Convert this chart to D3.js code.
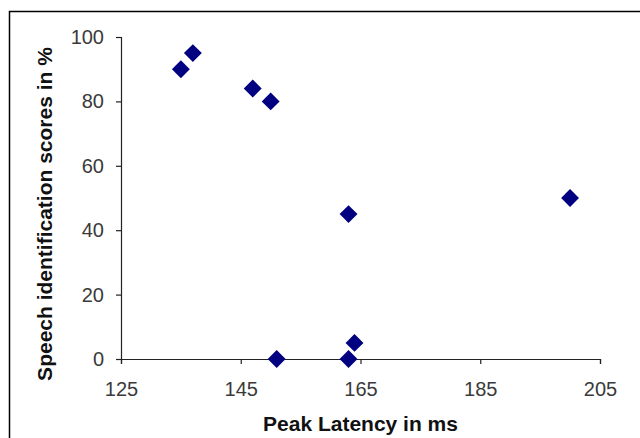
<!DOCTYPE html>
<html>
<head>
<meta charset="utf-8">
<script src="https://cdn.jsdelivr.net/npm/d3@7"></script>
<style>
	body { margin: 0; background: #fff; }
	text { font-family: 'Liberation Sans', Arial, sans-serif; }
</style>
</head>
<body>
<svg id="chart" width="640" height="438"></svg>
<script>
// peak latency (ms) vs speech identification score (%)
const latency = [135, 137, 147, 150, 163, 200, 151, 163, 164];
const score = [90, 95, 84, 80, 45, 50, 0, 0, 5];
const xTicks = [125, 145, 165, 185, 205];
const yTicks = [0, 20, 40, 60, 80, 100];

const svg = d3.select("#chart");
const margin = { top: 37, left: 121, right: 40, bottom: 79 };

// outer frame (only top and left edges are in view)
svg.append("rect")
	.attr("x", 9.5)
	.attr("y", 11.5)
	.attr("width", 700)
	.attr("height", 500)
	.attr("fill", "none")
	.attr("stroke", "#000")
	.attr("stroke-width", 1.5);

const x = d3.scaleLinear().domain([125, 205]).range([margin.left, 600]);
const y = d3.scaleLinear().domain([0, 100]).range([359, margin.top]);

const xAxis = svg.append("g")
	.attr("transform", `translate(0, ${y(0)})`)
	.call(d3.axisBottom(x).tickValues(xTicks).tickSize(5).tickPadding(18));

const yAxis = svg.append("g")
	.attr("transform", `translate(${x(125)}, 0)`)
	.call(d3.axisLeft(y).tickValues(yTicks).tickSize(5).tickPadding(12));

[xAxis, yAxis].forEach(g => {
	g.select(".domain").attr("stroke", "#222").attr("stroke-width", 1.2);
	g.selectAll(".tick line").attr("stroke", "#222").attr("stroke-width", 1.2);
	g.selectAll(".tick text")
		.attr("fill", "#3a3a3a")
		.style("font-size", "20px")
		.style("font-family", "'Liberation Sans', Arial, sans-serif");
});

// points
svg.append("g")
	.selectAll("path")
	.data(latency.map((d, i) => [d, score[i]]))
	.join("path")
	.attr("d", d3.symbol(d3.symbolSquare, 160))
	.attr("transform", d => `translate(${x(d[0])}, ${y(d[1])}) rotate(45)`)
	.attr("fill", "#000080");

// axis titles
svg.append("text")
	.attr("x", (x(125) + x(205)) / 2)
	.attr("y", 431)
	.attr("text-anchor", "middle")
	.attr("font-weight", "bold")
	.attr("font-size", "21px")
	.attr("fill", "#111")
	.text("Peak Latency in ms");

svg.append("text")
	.attr("transform", `translate(52, 214) rotate(-90)`)
	.attr("text-anchor", "middle")
	.attr("font-weight", "bold")
	.attr("font-size", "21px")
	.attr("fill", "#111")
	.text("Speech identification scores in %");
</script>
</body>
</html>
